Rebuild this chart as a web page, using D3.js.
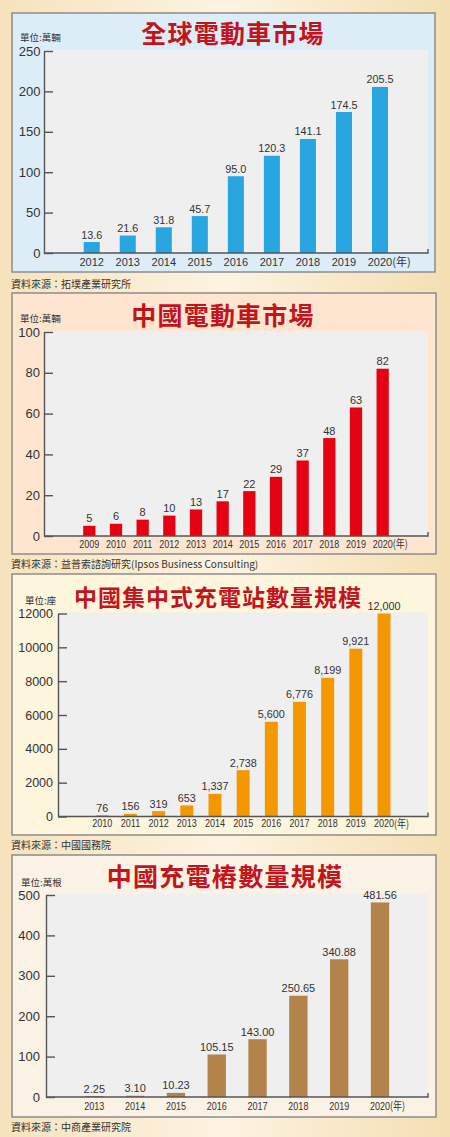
<!DOCTYPE html>
<html><head><meta charset="utf-8">
<script src="https://cdn.jsdelivr.net/npm/d3@7"></script>
<style>
html,body{margin:0;padding:0;background:#f7e6c6;}
svg{display:block;}
</style></head><body>
<svg id="chart" width="450" height="1137"></svg>
<script>
// ---- text ----
const titles = ["全球電動車市場", "中國電動車市場", "中國集中式充電站數量規模", "中國充電樁數量規模"];
const units = ["單位:萬輛", "單位:萬輛", "單位:座", "單位:萬根"];
const sources = ["資料來源：拓墣產業研究所", "資料來源：益普索諮詢研究(Ipsos Business Consulting)", "資料來源：中國國務院", "資料來源：中商產業研究院"];
const yearSuffix = "(年)";

// ---- data ----
const globalYears = ["2012","2013","2014","2015","2016","2017","2018","2019","2020"];
const globalValues = [13.6, 21.6, 31.8, 45.7, 95.0, 120.3, 141.1, 174.5, 205.5];
const globalTicks = [0, 50, 100, 150, 200, 250];

const chinaEvYears = ["2009","2010","2011","2012","2013","2014","2015","2016","2017","2018","2019","2020"];
const chinaEvValues = [5, 6, 8, 10, 13, 17, 22, 29, 37, 48, 63, 82];
const chinaEvTicks = [0, 20, 40, 60, 80, 100];

const stationYears = ["2010","2011","2012","2013","2014","2015","2016","2017","2018","2019","2020"];
const stationValues = [76, 156, 319, 653, 1337, 2738, 5600, 6776, 8199, 9921, 12000];
const stationTicks = [0, 2000, 4000, 6000, 8000, 10000, 12000];

const pileYears = ["2013","2014","2015","2016","2017","2018","2019","2020"];
const pileValues = [2.25, 3.10, 10.23, 105.15, 143.00, 250.65, 340.88, 481.56];
const pileTicks = [0, 100, 200, 300, 400, 500];

// ---- layout / style ----
const panels = [
  { years: globalYears, values: globalValues, ticks: globalTicks, title: titles[0], unit: units[0], source: sources[0],
    box: [12, 13, 423, 259], fill: "#dcedf8", plot: [44, 51, 428, 253], band: [73.7, 398], pad: 0.555, color: "#27a6e0",
    titleXY: [233, 32], titleSize: 25, titleLs: 1.2, unitXY: [20, 37], sourceY: 283, yPad: 3.5, yFont: 13,
    valFmt: ".1f", valFont: 10.8, yearFont: 11, yearScale: 1, yearOff: 13 },
  { years: chinaEvYears, values: chinaEvValues, ticks: chinaEvTicks, title: titles[1], unit: units[1], source: sources[1],
    box: [12, 293, 424, 261], fill: "#fde5d0", plot: [44, 332, 428, 536], band: [76, 396], pad: 0.54, color: "#e50012",
    titleXY: [223, 314], titleSize: 25, titleLs: 1.2, unitXY: [20, 318], sourceY: 563, yPad: 4, yFont: 13,
    valFmt: "d", valFont: 11, yearFont: 11, yearScale: 0.82, yearOff: 12 },
  { years: stationYears, values: stationValues, ticks: stationTicks, title: titles[2], unit: units[2], source: sources[2],
    box: [12, 574, 424, 261], fill: "#fdf5dc", plot: [58, 613.5, 428, 816.5], band: [88.2, 398.1], pad: 0.54, color: "#f39800",
    titleXY: [218, 596], titleSize: 23, titleLs: 1, unitXY: [25, 600], sourceY: 844.5, yPad: 5, yFont: 12.5,
    valFmt: ",d", valFont: 10.8, yearFont: 11, yearScale: 0.82, yearOff: 11 },
  { years: pileYears, values: pileValues, ticks: pileTicks, title: titles[3], unit: units[3], source: sources[3],
    box: [12, 855, 424, 262], fill: "#faf2e4", plot: [46, 895, 428, 1097], band: [73.9, 400.4], pad: 0.55, color: "#b2834a",
    titleXY: [225, 875], titleSize: 25, titleLs: 1.3, unitXY: [21, 882], sourceY: 1126, yPad: 6, yFont: 13,
    valFmt: ".2f", valFont: 11, yearFont: 11, yearScale: 0.82, yearOff: 13 }
];

const numFont = "'Liberation Sans', Arial, sans-serif";
const cjkFont = "'Noto Sans CJK TC', 'Noto Sans CJK SC', sans-serif";
const axisColor = "#555";
const textColor = "#333";

const svg = d3.select("#chart");
const defs = svg.append("defs");
const lg = defs.append("linearGradient").attr("id", "bg").attr("x1", 0).attr("x2", 1).attr("y1", 0).attr("y2", 0);
lg.append("stop").attr("offset", "0%").attr("stop-color", "#f6e3bd");
lg.append("stop").attr("offset", "50%").attr("stop-color", "#fdf3e1");
lg.append("stop").attr("offset", "100%").attr("stop-color", "#f4dfb3");
svg.append("rect").attr("width", 450).attr("height", 1137).attr("fill", "url(#bg)");

panels.forEach(p => {
  const g = svg.append("g");
  const [bx, by, bw, bh] = p.box;
  g.append("rect").attr("x", bx).attr("y", by).attr("width", bw).attr("height", bh)
    .attr("fill", p.fill).attr("stroke", "#8c8c8c").attr("stroke-width", 1.5);

  const [px0, py0, px1, py1] = p.plot;
  g.append("rect").attr("x", px0).attr("y", py0 - 1).attr("width", px1 - px0).attr("height", py1 - py0 + 1)
    .attr("fill", "#efefef");

  const y = d3.scaleLinear().domain([0, d3.max(p.ticks)]).range([py1, py0]);
  const x = d3.scaleBand().domain(p.years).range(p.band).paddingInner(p.pad).paddingOuter(p.pad / 2);
  const data = p.years.map((yr, i) => ({ yr, v: p.values[i] }));

  g.append("g").selectAll("rect").data(data).join("rect")
    .attr("x", d => x(d.yr)).attr("width", x.bandwidth())
    .attr("y", d => y(d.v)).attr("height", d => y(0) - y(d.v))
    .attr("fill", p.color);

  const fmt = d3.format(p.valFmt);
  g.append("g").selectAll("text").data(data).join("text")
    .attr("x", d => x(d.yr) + x.bandwidth() / 2)
    .attr("y", d => y(d.v) - 3.5)
    .attr("text-anchor", "middle")
    .attr("font-family", numFont).attr("font-size", p.valFont).attr("fill", textColor)
    .text(d => fmt(d.v));

  // y axis
  const ya = g.append("g").attr("transform", `translate(${px0},0)`)
    .call(d3.axisLeft(y).tickValues(p.ticks).tickFormat(d3.format("d"))
      .tickSizeInner(-9).tickSizeOuter(0).tickPadding(p.yPad));
  ya.selectAll("path,line").attr("stroke", axisColor).attr("stroke-width", 1.4);
  ya.selectAll("text").attr("font-family", numFont).attr("font-size", p.yFont).attr("fill", textColor);

  // baseline with small end tick
  g.append("path").attr("d", `M${px0},${y(0)}H${px1}V${y(0) - 4}`)
    .attr("fill", "none").attr("stroke", axisColor).attr("stroke-width", 1.4);

  // x axis labels
  const xa = g.append("g").attr("transform", `translate(0,${y(0)})`)
    .call(d3.axisBottom(x).tickSize(0).tickPadding(0));
  xa.select(".domain").remove();
  const last = p.years[p.years.length - 1];
  xa.selectAll("text")
    .attr("y", p.yearOff).attr("dy", 0)
    .attr("font-family", numFont).attr("font-size", p.yearFont).attr("fill", textColor)
    .attr("transform", `scale(${p.yearScale},1)`)
    .each(function(d) {
      if (d === last) {
        const t = d3.select(this);
        t.text(null);
        t.append("tspan").text(d);
        const s = t.append("tspan").attr("font-family", cjkFont).text(yearSuffix);
        const w = s.node().getComputedTextLength();
        t.attr("x", w / 2);
      }
    });

  // title
  g.append("text").attr("x", p.titleXY[0]).attr("y", p.titleXY[1])
    .attr("text-anchor", "middle").attr("dominant-baseline", "central")
    .attr("font-family", cjkFont).attr("font-weight", 700).attr("font-size", p.titleSize)
    .attr("letter-spacing", p.titleLs).attr("fill", "#c3141d")
    .text(p.title);

  g.append("text").attr("x", p.unitXY[0]).attr("y", p.unitXY[1])
    .attr("dominant-baseline", "central")
    .attr("font-family", cjkFont).attr("font-size", 9.5).attr("fill", textColor)
    .text(p.unit);

  g.append("text").attr("x", 11).attr("y", p.sourceY)
    .attr("dominant-baseline", "central")
    .attr("font-family", cjkFont).attr("font-size", 10).attr("fill", textColor)
    .text(p.source);
});
</script>
</body></html>
